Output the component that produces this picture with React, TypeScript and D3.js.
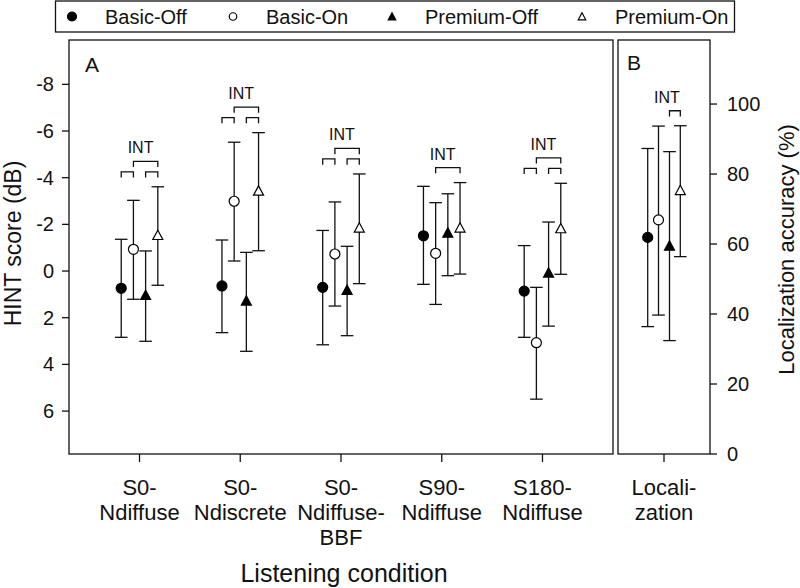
import React from "react";
import * as d3 from "d3";

const categories: string[][] = [
  ["S0-", "Ndiffuse"],
  ["S0-", "Ndiscrete"],
  ["S0-", "Ndiffuse-", "BBF"],
  ["S90-", "Ndiffuse"],
  ["S180-", "Ndiffuse"],
];
const locCategory: string[] = ["Locali-", "zation"];

const seriesNames = ["Basic-Off", "Basic-On", "Premium-Off", "Premium-On"];
const seriesShape = ["circle", "circle", "triangle", "triangle"];
const seriesFilled = [true, false, true, false];

// HINT score (dB): mean, upper whisker (more negative), lower whisker
const hintMean: number[][] = [
  [0.74, 0.64, 0.7, -1.51, 0.86],
  [-0.93, -2.99, -0.73, -0.76, 3.07],
  [1.03, 1.27, 0.81, -1.64, 0.07],
  [-1.54, -3.44, -1.86, -1.86, -1.83],
];
const hintTop: number[][] = [
  [-1.36, -1.33, -1.74, -3.63, -1.09],
  [-3.03, -5.52, -2.96, -2.93, 0.7],
  [-0.86, -0.8, -1.06, -3.31, -2.1],
  [-3.61, -5.93, -4.16, -3.79, -3.76],
];
const hintBottom: number[][] = [
  [2.84, 2.64, 3.16, 0.57, 2.84],
  [1.21, -0.43, 1.5, 1.43, 5.49],
  [3.01, 3.44, 2.77, 0.2, 2.36],
  [0.61, -0.87, 0.54, 0.13, 0.14],
];

// Localization accuracy (%)
const locMean: number[] = [61.9, 66.9, 59.5, 75.4];
const locLow: number[] = [36.4, 39.7, 32.4, 56.4];
const locHigh: number[] = [87.3, 93.7, 86.4, 93.8];

const hintTicks = [-8, -6, -4, -2, 0, 2, 4, 6];
const locTicks = [0, 20, 40, 60, 80, 100];

// INT brackets: [seriesA, seriesB, level]
const intA: number[][][] = [
  [[0, 1, 0], [2, 3, 0], [1, 3, 1]],
  [[0, 1, 0], [2, 3, 0], [1, 3, 1]],
  [[0, 1, 0], [2, 3, 0], [1, 3, 1]],
  [[1, 3, 0]],
  [[0, 1, 0], [2, 3, 0], [1, 3, 1]],
];
const intB: number[][] = [[2, 3, 0]];

const FONT = "'Liberation Sans', Arial, Helvetica, sans-serif";

const A = { x0: 69, x1: 613, y0: 40, y1: 454 };
const B = { x0: 618, x1: 710, y0: 40, y1: 454 };

const xA = d3.scaleLinear().domain([-0.7, 4.7]).range([A.x0, A.x1]);
const yA = d3.scaleLinear().domain([-9.9, 7.84]).range([A.y0, A.y1]);
const xB = d3.scaleLinear().domain([-1, 1]).range([B.x0, B.x1]);
const yB = d3.scaleLinear().domain([0, 118.3]).range([B.y1, B.y0]);

const offA = [-18.3, -6.1, 6.1, 18.3];
const offB = [-16.3, -5.5, 5.5, 16.3];

function Marker({ x, y, s, size = 1 }: { x: number; y: number; s: number; size?: number }) {
  const fill = seriesFilled[s] ? "#000" : "#fff";
  if (seriesShape[s] === "circle") {
    return <circle cx={x} cy={y} r={5 * size} fill={fill} stroke="#000" strokeWidth={1.2} />;
  }
  const w = 10 * size;
  const h = 8.8 * size;
  const p = d3.path();
  p.moveTo(x, y - h / 2 - 0.5);
  p.lineTo(x + w / 2, y + h / 2);
  p.lineTo(x - w / 2, y + h / 2);
  p.closePath();
  return <path d={p.toString()} fill={fill} stroke="#000" strokeWidth={1.2} strokeLinejoin="miter" />;
}

function ErrBar({ x, yt, yb }: { x: number; yt: number; yb: number }) {
  const cw = 6.3;
  return (
    <g stroke="#111" strokeWidth={1.3} fill="none">
      <line x1={x} x2={x} y1={yt} y2={yb} />
      <line x1={x - cw} x2={x + cw} y1={yt} y2={yt} />
      <line x1={x - cw} x2={x + cw} y1={yb} y2={yb} />
    </g>
  );
}

function Brackets({ xs, base, pairs, textX }: { xs: number[]; base: number; pairs: number[][]; textX: number }) {
  const maxLevel = d3.max(pairs, (p) => p[2]) ?? 0;
  const topY = (lvl: number) => base - 15 - lvl * 10.5;
  const leg = 5.7;
  return (
    <g>
      {pairs.map((p, i) => {
        const yT = topY(p[2]);
        const pth = d3.path();
        pth.moveTo(xs[p[0]], yT + leg);
        pth.lineTo(xs[p[0]], yT);
        pth.lineTo(xs[p[1]], yT);
        pth.lineTo(xs[p[1]], yT + leg);
        return <path key={i} d={pth.toString()} fill="none" stroke="#111" strokeWidth={1.3} />;
      })}
      <text x={textX} y={topY(maxLevel) - 8} textAnchor="middle" fontFamily={FONT} fontSize={16} fill="#111">
        INT
      </text>
    </g>
  );
}

export default function App() {
  const legendX = [72, 233, 392, 582];
  const legendTX = [105, 266, 425, 615];
  return (
    <svg width={800} height={588} style={{ position: "absolute", left: 0, top: 0, background: "#fff" }}>
      <rect x={0} y={0} width={800} height={588} fill="#fff" />
      {/* Legend */}
      <rect x={55.5} y={1} width={679} height={31} fill="#fff" stroke="#111" strokeWidth={1.3} />
      {seriesNames.map((n, s) => (
        <g key={n}>
          <Marker x={legendX[s]} y={16.5} s={s} size={s === 0 ? 0.9 : 0.75} />
          <text x={legendTX[s]} y={23.5} fontFamily={FONT} fontSize={20} fill="#111">
            {n}
          </text>
        </g>
      ))}

      {/* Panel A box */}
      <rect x={A.x0} y={A.y0} width={A.x1 - A.x0} height={A.y1 - A.y0} fill="none" stroke="#111" strokeWidth={1.3} />
      <text x={85} y={72} fontFamily={FONT} fontSize={21} fill="#111">A</text>
      {/* Left axis ticks */}
      {hintTicks.map((t) => (
        <g key={t}>
          <line x1={A.x0 - 7} x2={A.x0} y1={yA(t)} y2={yA(t)} stroke="#111" strokeWidth={1.3} />
          <text x={A.x0 - 15} y={yA(t) + 7} textAnchor="end" fontFamily={FONT} fontSize={20} fill="#111">
            {t}
          </text>
        </g>
      ))}
      <text
        transform={`translate(21, ${243.5}) rotate(-90)`}
        textAnchor="middle"
        fontFamily={FONT}
        fontSize={23}
        fill="#111"
      >
        HINT score (dB)
      </text>
      {/* X ticks panel A */}
      {categories.map((lines, i) => (
        <g key={i}>
          <line x1={xA(i)} x2={xA(i)} y1={A.y1} y2={A.y1 + 8} stroke="#111" strokeWidth={1.3} />
          {lines.map((l, j) => (
            <text key={j} x={xA(i)} y={495 + j * 25} textAnchor="middle" fontFamily={FONT} fontSize={22} fill="#111">
              {l}
            </text>
          ))}
        </g>
      ))}
      <text x={(A.x0 + A.x1) / 2 + 3} y={582} textAnchor="middle" fontFamily={FONT} fontSize={25} fill="#111">
        Listening condition
      </text>

      {/* Panel A data */}
      {categories.map((_, i) => {
        const xs = offA.map((o) => xA(i) + o);
        const base = d3.min(hintTop, (row) => yA(row[i])) as number;
        return (
          <g key={i}>
            {seriesNames.map((_, s) => (
              <ErrBar key={"e" + s} x={xs[s]} yt={yA(hintTop[s][i])} yb={yA(hintBottom[s][i])} />
            ))}
            {seriesNames.map((_, s) => (
              <Marker key={"m" + s} x={xs[s]} y={yA(hintMean[s][i])} s={s} />
            ))}
            <Brackets xs={xs} base={base} pairs={intA[i]} textX={xA(i) + 1} />
          </g>
        );
      })}

      {/* Panel B */}
      <rect x={B.x0} y={B.y0} width={B.x1 - B.x0} height={B.y1 - B.y0} fill="none" stroke="#111" strokeWidth={1.3} />
      <text x={627} y={70} fontFamily={FONT} fontSize={21} fill="#111">B</text>
      {locTicks.map((t) => (
        <g key={t}>
          <line x1={B.x1} x2={B.x1 + 7} y1={yB(t)} y2={yB(t)} stroke="#111" strokeWidth={1.3} />
          <text x={B.x1 + 17} y={yB(t) + 7} fontFamily={FONT} fontSize={20} fill="#111">
            {t}
          </text>
        </g>
      ))}
      <text
        transform={`translate(794, ${249.5}) rotate(-90)`}
        textAnchor="middle"
        fontFamily={FONT}
        fontSize={22}
        fill="#111"
      >
        Localization accuracy (%)
      </text>
      <line x1={xB(0)} x2={xB(0)} y1={B.y1} y2={B.y1 + 8} stroke="#111" strokeWidth={1.3} />
      {locCategory.map((l, j) => (
        <text key={j} x={xB(0)} y={495 + j * 25} textAnchor="middle" fontFamily={FONT} fontSize={22} fill="#111">
          {l}
        </text>
      ))}
      {(() => {
        const xs = offB.map((o) => xB(0) + o);
        const base = d3.min(locHigh, (v) => yB(v)) as number;
        return (
          <g>
            {seriesNames.map((_, s) => (
              <ErrBar key={"e" + s} x={xs[s]} yt={yB(locHigh[s])} yb={yB(locLow[s])} />
            ))}
            {seriesNames.map((_, s) => (
              <Marker key={"m" + s} x={xs[s]} y={yB(locMean[s])} s={s} />
            ))}
            <Brackets xs={xs} base={base} pairs={intB} textX={xB(0) + 3} />
          </g>
        );
      })()}
    </svg>
  );
}
